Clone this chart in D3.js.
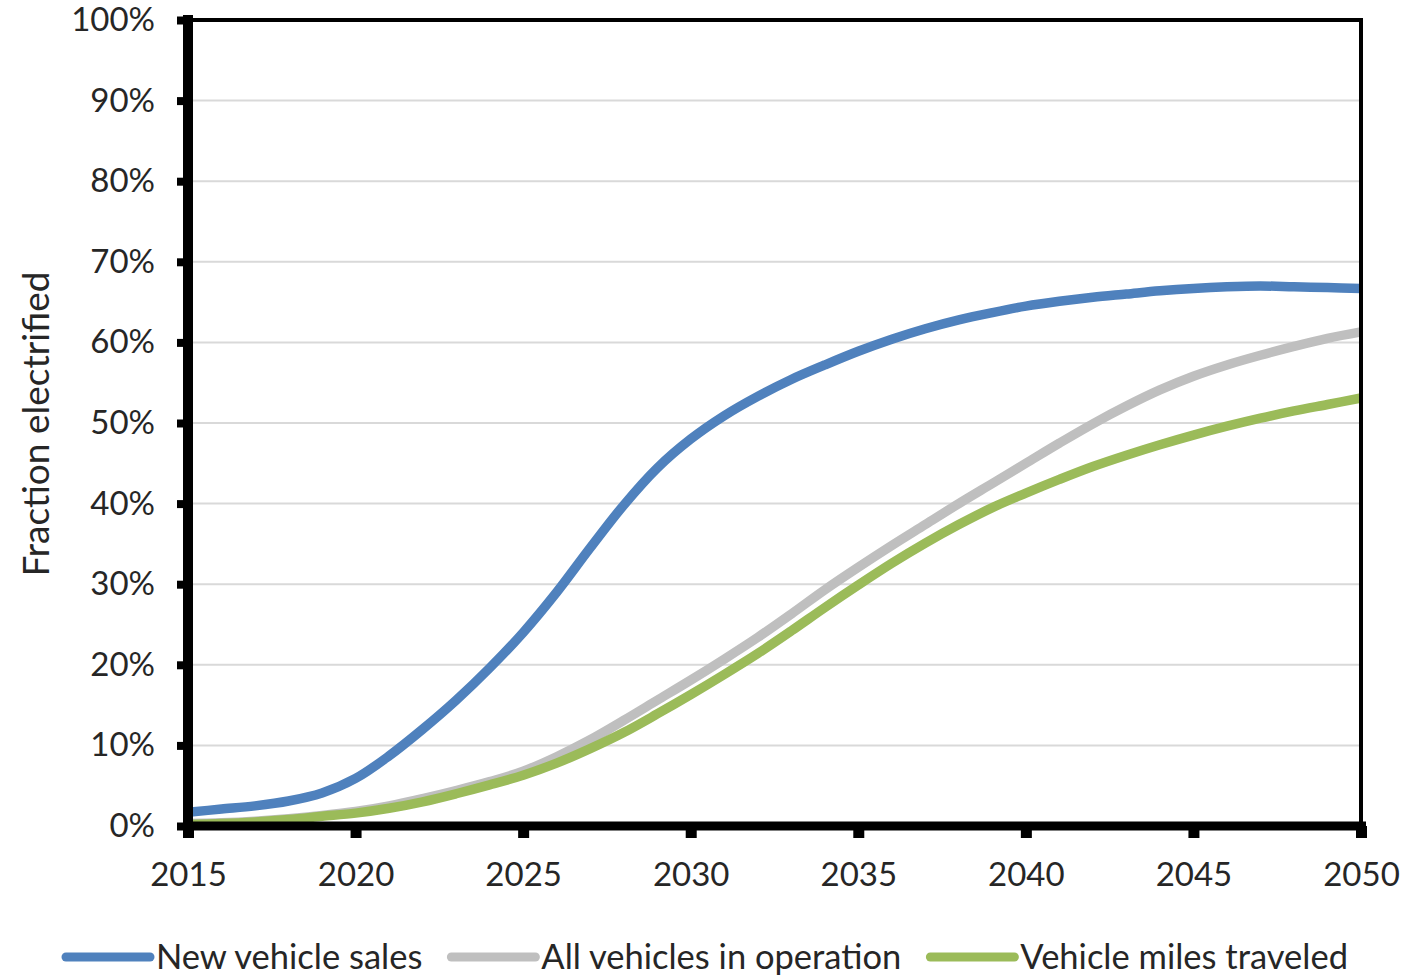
<!DOCTYPE html>
<html>
<head>
<meta charset="utf-8">
<script src="https://cdn.jsdelivr.net/npm/d3@7"></script>
<style>
  html, body { margin: 0; padding: 0; background: #fff; }
  svg { display: block; }
  text { font-family: Lato, "Open Sans", sans-serif; fill: #262626; }
</style>
</head>
<body>
<svg id="chart" width="1409" height="979"></svg>
<script>
// Years on the horizontal axis
const years = d3.range(2015, 2051);

// Share electrified, in percent, one value per year
const newVehicleSales = [
  1.7, 2.1, 2.5, 3.1, 4.1, 5.9, 8.7, 12.0, 15.6, 19.6,
  24.0, 29.0, 34.5, 39.8, 44.4, 48.0, 50.9, 53.3, 55.4, 57.2,
  58.9, 60.4, 61.7, 62.8, 63.7, 64.5, 65.1, 65.6, 66.0, 66.4,
  66.7, 66.9, 67.0, 66.9, 66.8, 66.7
];
const allVehiclesInOperation = [
  0.3, 0.4, 0.6, 0.9, 1.3, 1.8, 2.5, 3.4, 4.4, 5.5,
  6.8, 8.6, 10.7, 13.1, 15.6, 18.1, 20.7, 23.4, 26.3, 29.3,
  32.1, 34.8, 37.4, 40.0, 42.5, 45.0, 47.5, 49.9, 52.1, 54.1,
  55.8, 57.2, 58.4, 59.5, 60.5, 61.3
];
const vehicleMilesTraveled = [
  0.2, 0.3, 0.5, 0.8, 1.2, 1.6, 2.2, 3.0, 4.0, 5.1,
  6.3, 7.8, 9.6, 11.6, 13.9, 16.3, 18.8, 21.4, 24.2, 27.1,
  29.9, 32.6, 35.1, 37.4, 39.5, 41.3, 43.0, 44.6, 46.0, 47.3,
  48.5, 49.6, 50.6, 51.5, 52.3, 53.1
];

const seriesNames = ["New vehicle sales", "All vehicles in operation", "Vehicle miles traveled"];
const seriesValues = [newVehicleSales, allVehiclesInOperation, vehicleMilesTraveled];
const seriesColors = ["#4F81BD", "#BFBFBF", "#9BBB59"];

const xTickValues = [2015, 2020, 2025, 2030, 2035, 2040, 2045, 2050];
const yTickValues = [0, 10, 20, 30, 40, 50, 60, 70, 80, 90, 100];
const yAxisTitle = "Fraction electrified";

const svg = d3.select("#chart");

const plotLeft = 188, plotRight = 1361, plotTop = 20, plotBottom = 826;

const x = d3.scaleLinear().domain([2015, 2050]).range([plotLeft, plotRight]);
const y = d3.scaleLinear().domain([0, 100]).range([plotBottom, plotTop]);

// Horizontal gridlines
svg.append("g")
  .selectAll("line")
  .data(yTickValues.filter(v => v > 0 && v < 100))
  .join("line")
  .attr("x1", plotLeft).attr("x2", plotRight)
  .attr("y1", d => y(d)).attr("y2", d => y(d))
  .attr("stroke", "#D9D9D9")
  .attr("stroke-width", 2);

// Series lines, smoothed through the yearly points
const line = d3.line()
  .x((d, i) => x(years[i]))
  .y(d => y(d))
  .curve(d3.curveCatmullRom.alpha(0.5));

svg.append("g")
  .selectAll("path")
  .data(seriesValues)
  .join("path")
  .attr("d", d => line(d))
  .attr("fill", "none")
  .attr("stroke", (d, i) => seriesColors[i])
  .attr("stroke-width", 9.5)
  .attr("stroke-linejoin", "round");

// Top and right frame
svg.append("line")
  .attr("x1", plotLeft - 5).attr("x2", plotRight + 2)
  .attr("y1", plotTop).attr("y2", plotTop)
  .attr("stroke", "#000").attr("stroke-width", 4);
svg.append("line")
  .attr("x1", plotRight).attr("x2", plotRight)
  .attr("y1", plotTop - 2).attr("y2", plotBottom)
  .attr("stroke", "#000").attr("stroke-width", 4);

// Left axis
const yAxis = svg.append("g")
  .attr("transform", `translate(${plotLeft},0)`)
  .call(d3.axisLeft(y).tickValues(yTickValues).tickSize(11).tickSizeOuter(0).tickPadding(22)
    .tickFormat(d => d + "%"));
yAxis.select(".domain")
  .attr("stroke", "#000").attr("stroke-width", 10)
  .attr("d", `M0,${plotBottom + 5}V${plotTop - 5}`);
yAxis.selectAll(".tick line").attr("stroke", "#000").attr("stroke-width", 8);
yAxis.selectAll(".tick text")
  .style("font-size", "33px")
  .attr("fill", "#262626");

// Bottom axis
const xAxis = svg.append("g")
  .attr("transform", `translate(0,${plotBottom})`)
  .call(d3.axisBottom(x).tickValues(xTickValues).tickSize(12).tickSizeOuter(0).tickPadding(25)
    .tickFormat(d3.format("d")));
xAxis.select(".domain")
  .attr("stroke", "#000").attr("stroke-width", 9)
  .attr("d", `M${plotLeft - 5},0H${plotRight + 5}`);
xAxis.selectAll(".tick line").attr("stroke", "#000").attr("stroke-width", 11);
xAxis.selectAll(".tick text")
  .style("font-size", "33px")
  .attr("fill", "#262626");

// Y axis title
svg.append("text")
  .attr("transform", `translate(49,${(plotTop + plotBottom) / 2 + 1}) rotate(-90)`)
  .attr("text-anchor", "middle")
  .style("font-size", "37px")
  .text(yAxisTitle);

// Legend
const legend = svg.append("g").attr("transform", "translate(0,957)");
const swatchW = 88, swatchGap = 4, itemGap = 27;
const items = legend.selectAll("g")
  .data(seriesNames)
  .join("g");
items.append("line")
  .attr("x1", 2).attr("x2", swatchW - 2)
  .attr("y1", 0).attr("y2", 0)
  .attr("stroke", (d, i) => seriesColors[i])
  .attr("stroke-width", 9)
  .attr("stroke-linecap", "round");
items.append("text")
  .attr("x", swatchW + swatchGap)
  .attr("dy", "0.35em")
  .style("font-size", "34.5px")
  .text(d => d);

const widths = [];
items.each(function () {
  const w = swatchW + swatchGap + d3.select(this).select("text").node().getComputedTextLength();
  widths.push(w);
});
const total = d3.sum(widths) + itemGap * (widths.length - 1);
let cursor = (60 + 1352) / 2 - total / 2;
items.each(function (d, i) {
  d3.select(this).attr("transform", `translate(${cursor},0)`);
  cursor += widths[i] + itemGap;
});
</script>
</body>
</html>
